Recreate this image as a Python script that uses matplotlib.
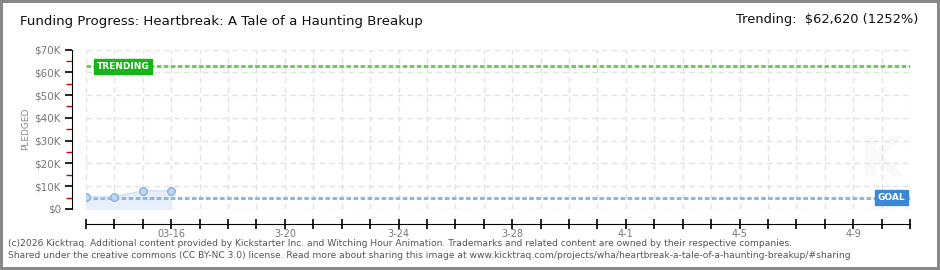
import matplotlib
matplotlib.use('Agg')
import matplotlib.pyplot as plt
import matplotlib.dates as mdates
from matplotlib.ticker import MultipleLocator, FuncFormatter
import pandas as pd

# data
dates = ['2026-03-13', '2026-03-14', '2026-03-15', '2026-03-16']
pledged = [5300, 5400, 7900, 8000]
goal = 5000
trending = 62620
start, end = '2026-03-13', '2026-04-11'
label_dates = ['2026-03-16', '2026-03-20', '2026-03-24', '2026-03-28',
               '2026-04-01', '2026-04-05', '2026-04-09']
label_texts = ['03-16', '3-20', '3-24', '3-28', '4-1', '4-5', '4-9']

title = 'Funding Progress: Heartbreak: A Tale of a Haunting Breakup'
trend_text = 'Trending:  $62,620 (1252%)'
footer1 = ('(c)2026 Kicktraq. Additional content provided by Kickstarter Inc. and Witching Hour '
           'Animation. Trademarks and related content are owned by their respective companies.')
footer2 = ('Shared under the creative commons (CC BY-NC 3.0) license. Read more about sharing this '
           'image at www.kicktraq.com/projects/wha/heartbreak-a-tale-of-a-haunting-breakup/#sharing')

W, H = 940, 270

fig = plt.figure(figsize=(9.4, 2.7), dpi=100)
fig.patch.set_facecolor('white')
fig.patch.set_edgecolor('#888888')
fig.patch.set_linewidth(3)

ax = fig.add_axes([86 / W, (H - 209) / H, 824 / W, 159.5 / H])
x = pd.to_datetime(dates)
x0, x1 = pd.Timestamp(start), pd.Timestamp(end)

ax.set_xlim(x0, x1)
ax.set_ylim(0, 70000)

# grid
ax.yaxis.set_major_locator(MultipleLocator(10000))
ax.yaxis.set_minor_locator(MultipleLocator(5000))
ax.xaxis.set_major_locator(mdates.DayLocator())
ax.grid(True, which='major', color='#e2e2e2', linestyle=(0, (4, 3)), linewidth=1)
ax.set_axisbelow(True)

# faint watermark
ax.text(0.965, 0.3, 'K', transform=ax.transAxes, fontsize=40, color='#f9f9f9',
        ha='center', va='center', fontweight='bold', zorder=0)

# goal / trending lines
ax.axhline(trending, color='#6ccd5a', linestyle=(0, (1.5, 0.8)), linewidth=2.2, zorder=2)
ax.axhline(goal, color='#8fb5e2', linestyle=(0, (1.5, 0.8)), linewidth=2.2, zorder=2)

# pledged series
ax.fill_between(x, pledged, 0, color='#e6effb', zorder=1)
ax.plot(x, pledged, color='#cfe0f5', linewidth=1, zorder=3)
ax.plot(x, pledged, 'o', markersize=5.5, markerfacecolor='#bcd6f5',
        markeredgecolor='#8fb0d8', markeredgewidth=1, zorder=4)

# label boxes
ax.text(x0 + pd.Timedelta(hours=9), trending, 'TRENDING', color='white', fontsize=6.5,
        fontweight='bold', ha='left', va='center', zorder=5,
        bbox=dict(boxstyle='square,pad=0.3', facecolor='#18b418', edgecolor='#18b418'))
ax.text(x1 - pd.Timedelta(hours=4), goal, 'GOAL', color='white', fontsize=6.5,
        fontweight='bold', ha='right', va='center', zorder=5,
        bbox=dict(boxstyle='square,pad=0.3', facecolor='#3c87d6', edgecolor='#3c87d6'))

# spines
for s in ['top', 'right']:
    ax.spines[s].set_visible(False)
ax.spines['left'].set_position(('outward', 10))
ax.spines['bottom'].set_position(('outward', 11))
ax.spines['left'].set_color('black')
ax.spines['bottom'].set_color('black')

ax.yaxis.set_major_formatter(FuncFormatter(lambda v, p: '$0' if v == 0 else '$%dK' % (v / 1000)))
ax.tick_params(axis='y', which='major', direction='out', length=5, width=1.2,
               color='black', labelcolor='#777777', labelsize=7.5, pad=3)
ax.tick_params(axis='y', which='minor', direction='out', length=4, width=1,
               color='#e00000')
ax.tick_params(axis='x', which='major', direction='inout', length=7, width=1.2,
               color='black', labelcolor='#777777', labelsize=7, pad=0)

tick_pos = list(pd.date_range(x0, x1, freq='D'))
lbl_map = dict(zip(pd.to_datetime(label_dates), label_texts))
ax.set_xticks(tick_pos)
ax.set_xticklabels([lbl_map.get(t, '') for t in tick_pos])

ax.set_ylabel('PLEDGED', color='#888888', fontsize=6.5)
ax.yaxis.set_label_coords((30 - 86) / 824, 0.5)

# header and footer
fig.text(20 / W, 1 - 22 / H, title, fontsize=9.6, color='#111111',
         ha='left', va='center')
fig.text(918 / W, 1 - 20 / H, trend_text, fontsize=9.4, color='#111111',
         ha='right', va='center')
fig.text(8 / W, 1 - 243 / H, footer1, fontsize=6.6, color='#555555',
         ha='left', va='center')
fig.text(8 / W, 1 - 256 / H, footer2, fontsize=6.6, color='#555555',
         ha='left', va='center')

fig.savefig('out.png', dpi=100, facecolor=fig.get_facecolor(), edgecolor=fig.get_edgecolor())
